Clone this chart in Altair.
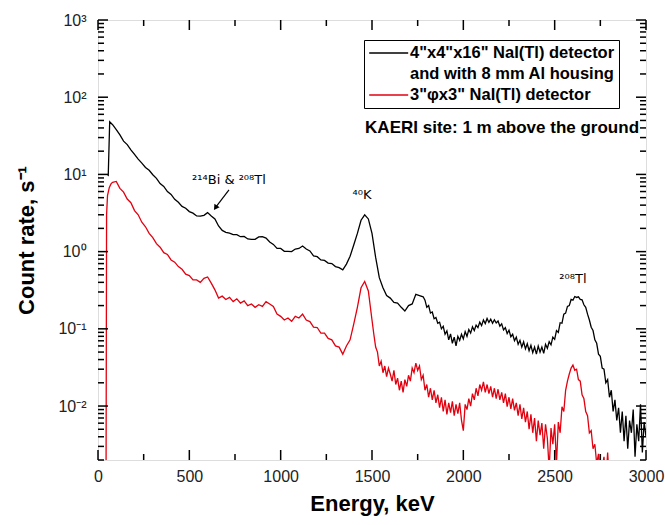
import math
import altair as alt
import pandas as pd

# ---------------- data ----------------
LABEL_BIG = '4"x4"x16" NaI(Tl) detector'
LABEL_BIG2 = 'and with 8 mm Al housing'
LABEL_SMALL = '3"\u03c6x3" NaI(Tl) detector'

# black: 4"x4"x16" detector
black_energy_start = [56, 64]
black_count_start = [9.5, 48]
black_energy_coarse = list(range(80, 1781, 20))
black_counts_coarse = [
    44, 38, 32.5, 27, 24.3, 20.8, 18.2, 15.8, 14, 12.3,
    11.3, 9.9, 8.9, 7.6, 7.0, 6.0, 5.5, 4.75, 4.35, 3.85,
    3.65, 3.3, 3.15, 2.9, 2.88, 2.95, 3.2, 2.9, 2.65, 2.15,
    1.88, 1.78, 1.74, 1.66, 1.66, 1.56, 1.57, 1.46, 1.44, 1.44,
    1.55, 1.56, 1.5, 1.33, 1.24, 1.1, 1.1, 1.01, 1.01, 1.0,
    1.08, 1.1, 1.18, 1.08, 1.02, 0.88, 0.86, 0.78, 0.77, 0.71,
    0.7, 0.64, 0.62, 0.58, 0.69, 0.87, 1.22, 1.72, 2.55, 3.0,
    2.65, 1.72, 0.84, 0.46, 0.34, 0.27, 0.25, 0.22, 0.215, 0.19,
    0.17, 0.2, 0.21, 0.28, 0.27, 0.26,
]
black_energy_fine = list(range(1790, 3001, 10))
black_counts_fine = [
    0.235, 0.19, 0.2, 0.16, 0.165, 0.135, 0.14, 0.118, 0.122, 0.1,
    0.108, 0.085, 0.094, 0.072, 0.086, 0.065, 0.078, 0.06, 0.08, 0.071,
    0.085, 0.074, 0.092, 0.08, 0.098, 0.088, 0.106, 0.095, 0.112, 0.104,
    0.122, 0.11, 0.13, 0.117, 0.136, 0.121, 0.133, 0.118, 0.131, 0.119,
    0.126, 0.108, 0.116, 0.097, 0.104, 0.087, 0.096, 0.079, 0.085, 0.07,
    0.078, 0.063, 0.071, 0.058, 0.068, 0.055, 0.064, 0.052, 0.061, 0.049,
    0.058, 0.047, 0.06, 0.05, 0.058, 0.048, 0.063, 0.056, 0.068, 0.062,
    0.078, 0.073, 0.095, 0.09, 0.12, 0.118, 0.155, 0.16, 0.195, 0.2,
    0.24, 0.235, 0.262, 0.255, 0.26, 0.24, 0.238, 0.205, 0.19, 0.155,
    0.13, 0.105, 0.095, 0.072, 0.065, 0.047, 0.044, 0.031, 0.03, 0.02,
    0.022, 0.013, 0.016, 0.0085, 0.012, 0.0065, 0.0095, 0.0045, 0.0085, 0.0035,
    0.0075, 0.0028, 0.0065, 0.0045, 0.009, 0.0022, 0.0058, 0.0035, 0.0105, 0.0025,
    0.0062, 0.004,
]

# red: 3"x3" detector
red_energy_start = [44, 47, 52, 62, 72]
red_count_start = [0.001, 3.0, 5.3, 6.8, 7.6]
red_energy_coarse = list(range(80, 1481, 20))
red_counts_coarse = [
    7.9, 8.1, 6.6, 5.9, 4.8, 4.3, 3.4, 3.0, 2.4, 2.1,
    1.72, 1.52, 1.27, 1.14, 0.97, 0.92, 0.78, 0.73, 0.64, 0.59,
    0.51, 0.49, 0.43, 0.43, 0.4, 0.45, 0.47, 0.39, 0.32, 0.25,
    0.265, 0.24, 0.255, 0.225, 0.245, 0.215, 0.23, 0.2, 0.21, 0.19,
    0.205, 0.195, 0.225, 0.21, 0.195, 0.155, 0.145, 0.13, 0.138, 0.125,
    0.145, 0.138, 0.155, 0.13, 0.124, 0.105, 0.104, 0.088, 0.088, 0.075,
    0.072, 0.06, 0.058, 0.047, 0.06, 0.072, 0.115, 0.19, 0.34, 0.41,
    0.31,
]
red_energy_fine = list(range(1500, 2801, 10))
red_counts_fine = [
    0.13, 0.085, 0.058, 0.05, 0.033, 0.038, 0.027, 0.033, 0.024, 0.031,
    0.026, 0.021, 0.029, 0.019, 0.023, 0.016, 0.021, 0.015, 0.022, 0.018,
    0.025, 0.021, 0.031, 0.027, 0.036, 0.029, 0.033, 0.022, 0.025, 0.016,
    0.019, 0.013, 0.017, 0.012, 0.016, 0.011, 0.014, 0.0095, 0.013, 0.0085,
    0.012, 0.0078, 0.011, 0.0082, 0.0115, 0.0075, 0.0105, 0.008, 0.011, 0.0065,
    0.0048, 0.0105, 0.009, 0.0125, 0.01, 0.0145, 0.012, 0.017, 0.0135, 0.019,
    0.016, 0.0205, 0.015, 0.019, 0.0145, 0.018, 0.013, 0.017, 0.0125, 0.0165,
    0.012, 0.015, 0.011, 0.0145, 0.0098, 0.013, 0.0092, 0.0125, 0.0088, 0.011,
    0.0075, 0.0105, 0.0068, 0.0095, 0.0062, 0.0085, 0.005, 0.0078, 0.0045, 0.007,
    0.0035, 0.0065, 0.0042, 0.006, 0.0028, 0.0058, 0.0038, 0.0015, 0.0052, 0.0032,
    0.0058, 0.0018, 0.0062, 0.0045, 0.0098, 0.0085, 0.016, 0.021, 0.026, 0.031,
    0.034, 0.029, 0.03, 0.022, 0.021, 0.014, 0.0125, 0.0085, 0.0075, 0.0045,
    0.0048, 0.0028, 0.0032, 0.0018, 0.0024, 0.0012, 0.0016, 0.0022, 0.001, 0.0025,
    0.001,
]

# annotations (energy, count-rate position)
ann_labels = ["\u00b2\u00b9\u2074Bi & \u00b2\u2070\u2078Tl", "\u2074\u2070K", "\u00b2\u2070\u2078Tl"]
ann_energy = [717, 1445, 2600]
ann_count = [8.45, 5.4, 0.44]

site_label = ["KAERI site: 1 m above the ground"]
site_energy = [2212]
site_count = [40]

arrow_from_energy = [717]
arrow_from_count = [6.3]
arrow_to_energy = [646]
arrow_to_count = [3.79]

# axis ticks
x_major = [0, 500, 1000, 1500, 2000, 2500, 3000]
x_minor = [250, 750, 1250, 1750, 2250, 2750]
y_major = [0.01, 0.1, 1, 10, 100, 1000]
y_minor = [m * d for d in [0.001, 0.01, 0.1, 1, 10, 100] for m in range(2, 10)]
y_minor = [v for v in y_minor if v >= 0.002]

# ---------------- layout ----------------
W, H = 548, 440
FONT = "Liberation Sans"
X_MIN, X_MAX = 0, 3000
Y_MIN, Y_MAX = 0.002, 1000
MAJOR_PX, MINOR_PX = 10, 6

xscale = alt.Scale(domain=[X_MIN, X_MAX], nice=False, zero=False)
yscale = alt.Scale(type="log", domain=[Y_MIN, Y_MAX], nice=False)

# tick lengths converted to data units so the ticks go through the scales
px_per_decade = H / math.log10(Y_MAX / Y_MIN)
keV_per_px = (X_MAX - X_MIN) / W


def yfac(px):
    return 10 ** (px / px_per_decade)


# ---------------- tables ----------------
black_df = pd.DataFrame({
    "energy": black_energy_start + black_energy_coarse + black_energy_fine,
    "count": black_count_start + black_counts_coarse + black_counts_fine,
    "series": LABEL_BIG,
})
red_df = pd.DataFrame({
    "energy": red_energy_start + red_energy_coarse + red_energy_fine,
    "count": red_count_start + red_counts_coarse + red_counts_fine,
    "series": LABEL_SMALL,
})
spec_df = pd.concat([black_df, red_df], ignore_index=True)
ann_df = pd.DataFrame({"energy": ann_energy, "count": ann_count, "label": ann_labels})
site_df = pd.DataFrame({"energy": site_energy, "count": site_count, "label": site_label})
arrow_df = pd.DataFrame({"e1": arrow_from_energy, "c1": arrow_from_count,
                         "e2": arrow_to_energy, "c2": arrow_to_count})

x_axis = alt.Axis(
    values=x_major, title="Energy, keV", format="d",
    labelFont=FONT, labelFontSize=16, labelColor="#222", labelPadding=8,
    titleFont=FONT, titleFontSize=22, titleFontWeight="bold", titleColor="black",
    titlePadding=9, ticks=False, domain=False, grid=False, labelOverlap=False,
    labelFlush=False,
)
y_axis = alt.Axis(
    values=y_major, title="Count rate, s\u207b\u00b9",
    labelExpr=("datum.value == 1000 ? '10\u00b3' : datum.value == 100 ? '10\u00b2' : "
               "datum.value == 10 ? '10\u00b9' : datum.value == 1 ? '10\u2070' : "
               "datum.value == 0.1 ? '10\u207b\u00b9' : datum.value == 0.01 ? '10\u207b\u00b2' : ''"),
    labelFont=FONT, labelFontSize=16, labelColor="#222", labelPadding=12,
    titleFont=FONT, titleFontSize=22, titleFontWeight="bold", titleColor="black",
    titlePadding=19, ticks=False, domain=False, grid=False, labelOverlap=False,
    labelFlush=False,
)

lines = alt.Chart(spec_df).mark_line(strokeWidth=1.3, clip=True).encode(
    x=alt.X("energy:Q", scale=xscale, axis=x_axis),
    y=alt.Y("count:Q", scale=yscale, axis=y_axis),
    color=alt.Color(
        "series:N",
        scale=alt.Scale(domain=[LABEL_BIG, LABEL_BIG2, LABEL_SMALL],
                        range=["black", "transparent", "#e3000f"]),
        legend=alt.Legend(
            orient="none", legendX=266, legendY=20, title=None,
            symbolType="M-1,0L4,0", symbolSize=243, symbolStrokeWidth=1.5,
            labelOffset=24, labelFont=FONT, labelFontSize=16.5, labelFontWeight="bold",
            labelColor="black", labelLimit=400, strokeColor="black", fillColor="white",
            padding=4, rowPadding=3,
        ),
    ),
)


def x_ticks(values, at, end):
    df = pd.DataFrame({"v": values, "a": at, "b": end})
    return alt.Chart(df).mark_rule(color="black", strokeWidth=1.5).encode(
        x=alt.X("v:Q", scale=xscale), x2="v:Q",
        y=alt.Y("a:Q", scale=yscale), y2="b:Q")


def y_ticks(values, at, end):
    df = pd.DataFrame({"v": values, "a": at, "b": end})
    return alt.Chart(df).mark_rule(color="black", strokeWidth=1.5).encode(
        y=alt.Y("v:Q", scale=yscale), y2="v:Q",
        x=alt.X("a:Q", scale=xscale), x2="b:Q")


tick_layers = [
    x_ticks(x_major, Y_MIN, Y_MIN * yfac(MAJOR_PX)),
    x_ticks(x_major, Y_MAX, Y_MAX / yfac(MAJOR_PX)),
    x_ticks(x_minor, Y_MIN, Y_MIN * yfac(MINOR_PX)),
    x_ticks(x_minor, Y_MAX, Y_MAX / yfac(MINOR_PX)),
    y_ticks(y_major, X_MIN, X_MIN + MAJOR_PX * keV_per_px),
    y_ticks(y_major, X_MAX, X_MAX - MAJOR_PX * keV_per_px),
    y_ticks(y_minor, X_MIN, X_MIN + MINOR_PX * keV_per_px),
    y_ticks(y_minor, X_MAX, X_MAX - MINOR_PX * keV_per_px),
]

texts = alt.Chart(ann_df).mark_text(font="DejaVu Sans", fontSize=13, color="black").encode(
    x=alt.X("energy:Q", scale=xscale), y=alt.Y("count:Q", scale=yscale), text="label:N")

site = alt.Chart(site_df).mark_text(font=FONT, fontSize=17, fontWeight="bold", color="black").encode(
    x=alt.X("energy:Q", scale=xscale), y=alt.Y("count:Q", scale=yscale), text="label:N")

arrow_line = alt.Chart(arrow_df).mark_rule(color="black", strokeWidth=1.2).encode(
    x=alt.X("e1:Q", scale=xscale), y=alt.Y("c1:Q", scale=yscale), x2="e2:Q", y2="c2:Q")
arrow_head = alt.Chart(arrow_df).mark_point(shape="triangle", filled=True, color="black",
                                            size=40, angle=214, opacity=1).encode(
    x=alt.X("e2:Q", scale=xscale), y=alt.Y("c2:Q", scale=yscale))

chart = alt.layer(lines, texts, site, arrow_line, arrow_head, *tick_layers).properties(
    width=W, height=H, autosize="none",
    padding={"left": 98, "top": 20, "right": 19, "bottom": 65},
).configure_view(stroke="black", strokeWidth=1.3).configure(background="white")

chart.save("out.html", embed_options={"renderer": "svg", "actions": False})
